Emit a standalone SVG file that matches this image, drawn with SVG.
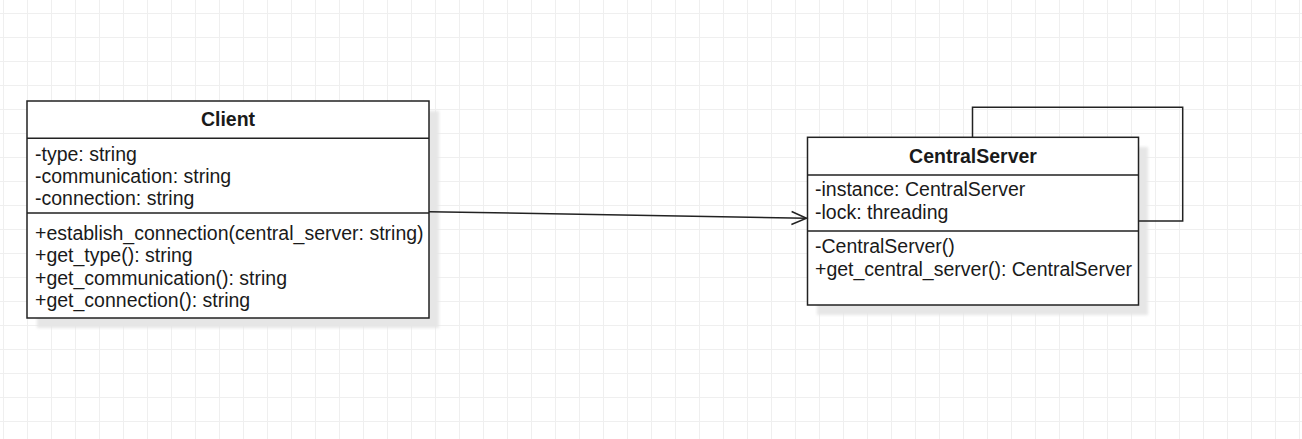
<svg xmlns="http://www.w3.org/2000/svg" width="1302" height="439" viewBox="0 0 1302 439">
  <defs>
    <pattern id="grid" x="3" y="13" width="24" height="24" patternUnits="userSpaceOnUse">
      <path d="M0.5 0V24M0 0.5H24" fill="none" stroke="#efefef" stroke-width="1"/>
    </pattern>
    <filter id="shadow" x="-10%" y="-10%" width="130%" height="130%">
      <feGaussianBlur stdDeviation="1.5"/>
    </filter>
    <marker id="open" markerWidth="20" markerHeight="20" refX="17" refY="10" orient="auto" markerUnits="userSpaceOnUse">
      <path d="M2 3.5L17 10L2 16.5" fill="none" stroke="#222" stroke-width="1.5"/>
    </marker>
  </defs>
  <style>
    .box { fill: #fff; stroke: #222; stroke-width: 1.5; }
    .sh { fill: #e6e6e6; filter: url(#shadow); }
    .ln { stroke: #222; stroke-width: 1.5; fill: none; }
    .t { font-family: "Liberation Sans", Arial, sans-serif; font-size: 19.5px; fill: #1a1a1a; }
    .h { font-family: "Liberation Sans", Arial, sans-serif; font-size: 19.5px; font-weight: bold; fill: #1a1a1a; text-anchor: middle; }
  </style>
  <rect width="1302" height="439" fill="#fff"/>
  <rect width="1302" height="439" fill="url(#grid)"/>

  <g id="client">
    <rect class="sh" x="37" y="111" width="402" height="217"/>
    <rect class="box" x="27" y="101" width="402" height="217"/>
    <path class="ln" d="M27 138.3H429M27 213H429"/>
    <text class="h" x="228" y="126">Client</text>
    <text class="t" x="35" y="160.5">-type: string</text>
    <text class="t" x="35" y="182.5">-communication: string</text>
    <text class="t" x="35" y="204.5">-connection: string</text>
    <text class="t" x="35" y="240">+establish_connection(central_server: string)</text>
    <text class="t" x="35" y="262">+get_type(): string</text>
    <text class="t" x="35" y="284.5">+get_communication(): string</text>
    <text class="t" x="35" y="306.5">+get_connection(): string</text>
  </g>

  <g id="central-server">
    <rect class="sh" x="817" y="147" width="331" height="168"/>
    <rect class="box" x="807.5" y="137.3" width="331" height="167.7"/>
    <path class="ln" d="M807.5 175H1138.5M807.5 231H1138.5"/>
    <text class="h" x="973" y="163">CentralServer</text>
    <text class="t" x="815" y="196">-instance: CentralServer</text>
    <text class="t" x="815" y="218.5">-lock: threading</text>
    <text class="t" x="815" y="253">-CentralServer()</text>
    <text class="t" x="815" y="275.5">+get_central_server(): CentralServer</text>
  </g>

  <g id="connectors">
    <path class="ln" d="M429 211.7L806.5 218.3" marker-end="url(#open)"/>
    <path class="ln" d="M972.5 137.3V107.3H1182.7V221H1138.3"/>
  </g>
</svg>
